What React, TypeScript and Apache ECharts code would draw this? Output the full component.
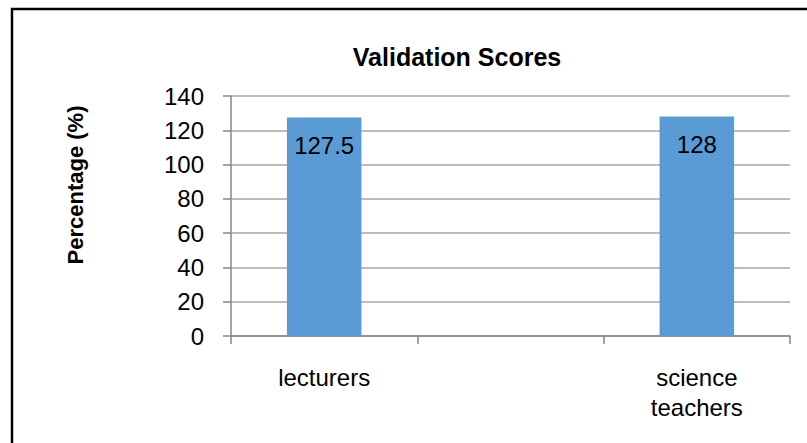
import React, { useEffect, useRef } from "react";
import * as echarts from "echarts";

const categories = ["lecturers", "", "science teachers"];
const scores: (number | null)[] = [127.5, null, 128];
const titleText = "Validation Scores";
const yAxisTitle = "Percentage (%)";
const yMin = 0;
const yMax = 140;
const yStep = 20;

const FONT = "'Liberation Sans', Arial, sans-serif";

export default function App() {
  const ref = useRef<HTMLDivElement>(null);
  useEffect(() => {
    if (!ref.current) return;
    const chart = echarts.init(ref.current, undefined, { renderer: "svg" });
    chart.setOption({
      animation: false,
      backgroundColor: "#ffffff",
      grid: { left: 231, right: 17, top: 96, bottom: 107, containLabel: false },
      graphic: [
        {
          type: "rect",
          shape: { x: 12, y: 9, width: 1000, height: 1000 },
          style: { fill: "none", stroke: "#000000", lineWidth: 2.5 },
          silent: true,
        },
        {
          type: "text",
          x: 457,
          y: 57,
          style: {
            text: titleText,
            align: "center",
            verticalAlign: "middle",
            font: `bold 25px ${FONT}`,
            fill: "#000000",
          },
        },
        {
          type: "text",
          x: 75,
          y: 185,
          rotation: Math.PI / 2,
          style: {
            text: yAxisTitle,
            align: "center",
            verticalAlign: "middle",
            font: `bold 22px ${FONT}`,
            fill: "#000000",
          },
        },
      ],
      xAxis: {
        type: "category",
        data: categories,
        boundaryGap: true,
        axisLine: { show: true, lineStyle: { color: "#868686", width: 1.5 } },
        axisTick: { show: true, interval: 0, length: 8, alignWithLabel: false, lineStyle: { color: "#868686", width: 1.5 } },
        axisLabel: {
          interval: 0,
          margin: 26,
          color: "#000000",
          fontFamily: FONT,
          fontSize: 24,
          lineHeight: 30,
          formatter: (v: string) => v.replace(" ", "\n"),
        },
        splitLine: { show: false },
      },
      yAxis: {
        type: "value",
        min: yMin,
        max: yMax,
        interval: yStep,
        axisLine: { show: true, lineStyle: { color: "#868686", width: 1.5 } },
        axisTick: { show: true, length: 8, lineStyle: { color: "#868686", width: 1.5 } },
        axisLabel: { margin: 27, color: "#000000", fontFamily: FONT, fontSize: 24 },
        splitLine: { show: true, lineStyle: { color: "#a6a6a6", width: 1.5 } },
      },
      series: [
        {
          type: "bar",
          data: scores,
          barWidth: "40%",
          itemStyle: { color: "#5b9bd5" },
          label: {
            show: true,
            position: "insideTop",
            distance: 16,
            color: "#000000",
            fontFamily: FONT,
            fontSize: 24,
          },
        },
      ],
    });
    return () => chart.dispose();
  }, []);
  return (
    <div
      ref={ref}
      style={{ position: "fixed", left: 0, top: 0, width: 807, height: 443 }}
    />
  );
}
